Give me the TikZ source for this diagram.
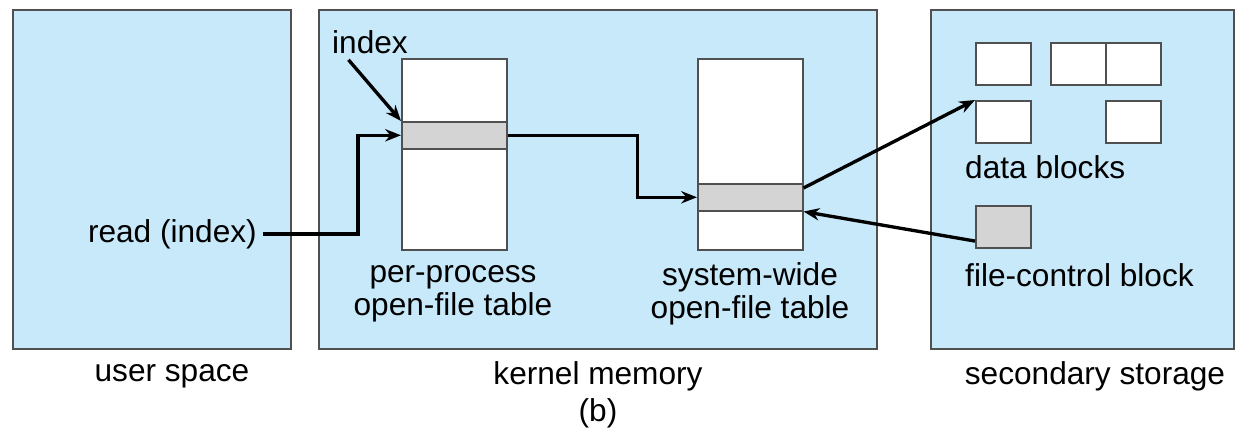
\documentclass[tikz,border=0pt]{standalone}
\usepackage{fontspec}
\setmainfont{Liberation Sans}
\usetikzlibrary{arrows.meta}

\definecolor{areablue}{RGB}{199,233,249}
\definecolor{edgegray}{RGB}{80,80,80}
\definecolor{slotgray}{RGB}{212,212,212}

\tikzset{
  area/.style={draw=edgegray, fill=areablue, line width=0.9pt},
  filetab/.style={draw=edgegray, fill=white, line width=0.9pt, anchor=north west,
    minimum width=2.1cm, minimum height=3.82cm, inner sep=0pt},
  slot/.style={draw=edgegray, fill=slotgray, line width=0.9pt, anchor=north west,
    minimum width=2.1cm, minimum height=0.54cm, inner sep=0pt},
  dblock/.style={draw=edgegray, fill=white, line width=0.9pt, anchor=north west,
    minimum width=1.1cm, minimum height=0.84cm, inner sep=0pt},
  link/.style={line width=1.9pt, -{Stealth[length=9pt,width=7pt]}},
  lbl/.style={font=\fontsize{18}{18.5}\selectfont, align=center}
}

\begin{document}
\begin{tikzpicture}[x=0.02cm, y=-0.02cm]
  \useasboundingbox (0,0) rectangle (1235,431);

  % the three regions
  \draw[area] (13,10) rectangle (291,349);
  \draw[area] (319,10) rectangle (877,349);
  \draw[area] (931,10) rectangle (1234,349);

  % open-file tables
  \node[filetab] (ppt) at (401,58) {};
  \node[slot] (pprow) at (401,121) {};
  \node[filetab] (swt) at (697,58) {};
  \node[slot] (swrow) at (697,183) {};

  % blocks on disk
  \node[dblock] (db1) at (975,42) {};
  \node[dblock] (db2) at (1050,42) {};
  \node[dblock] (db3) at (1105,42) {};
  \node[dblock] (db4) at (975,100) {};
  \node[dblock] (db5) at (1105,100) {};
  \node[dblock, fill=slotgray] (fcb) at (975,205) {};

  % labels
  \node[lbl] (index) at (370,42) {index};
  \node[lbl, anchor=east] (read) at (263,234) {read (index)};
  \node[lbl] (pplbl) at (453,294) {per-process\\open-file table};
  \node[lbl] (swlbl) at (750,294) {system-wide\\open-file table};
  \node[lbl, anchor=west] (dblbl) at (959,167) {data blocks};
  \node[lbl, anchor=west] (fcblbl) at (959,275) {file-control block};
  \node[lbl] (user) at (172,376) {user space};
  \node[lbl] (kernel) at (598,376) {kernel memory};
  \node[lbl] (storage) at (1095,376) {secondary storage};
  \node[lbl] (sub) at (598,413) {(b)};

  % connectors
  \draw[link] ([xshift=0.45cm]index.south west) -- (pprow.north west);
  \draw[link] (read.east) -- ++(95,0) |- (pprow.west);
  \draw[link] (pprow.east) -- ++(130,0) |- (swrow.west);
  \draw[link] ([yshift=-0.1cm]swrow.north east) -- (db4.north west);
  \draw[link] ([yshift=0.15cm]fcb.south west) -- (swrow.south east);
\end{tikzpicture}
\end{document}
